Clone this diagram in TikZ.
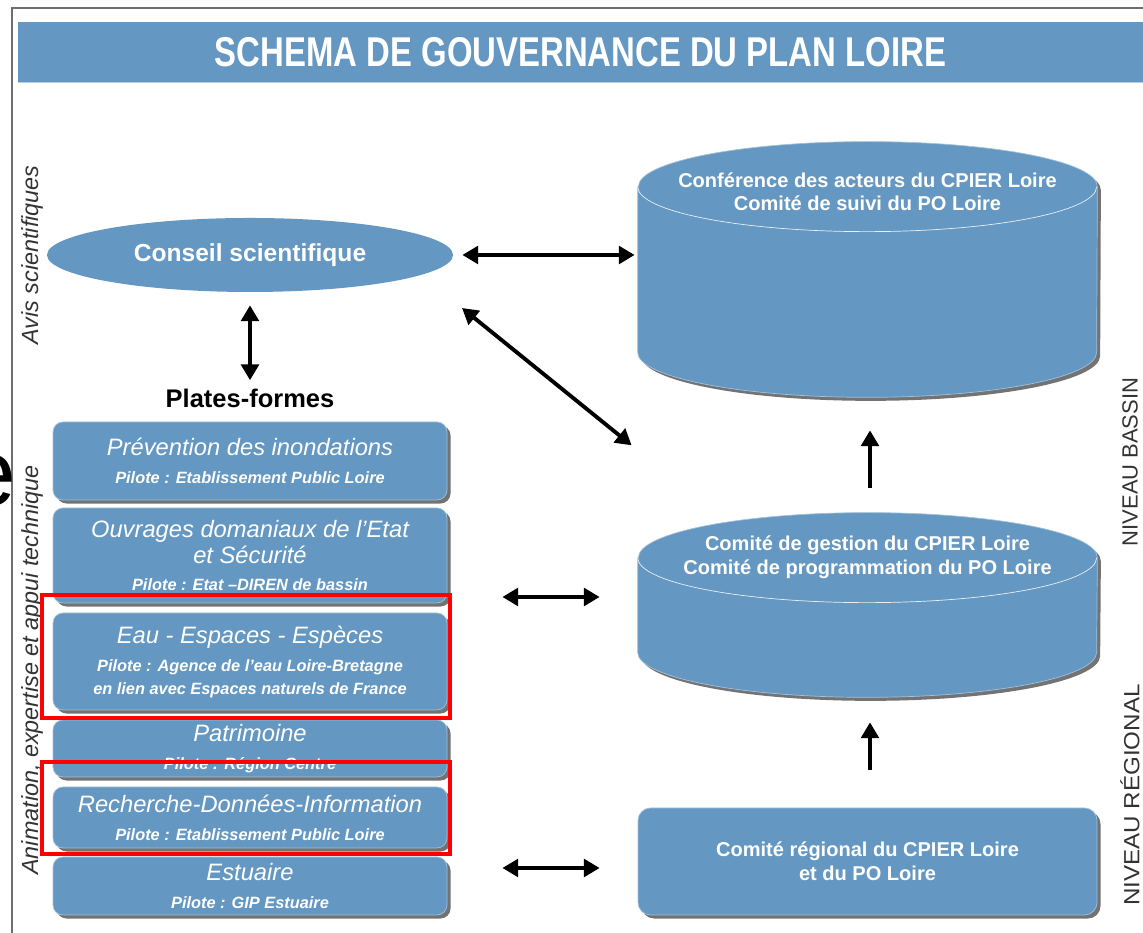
\documentclass[tikz,border=0pt]{standalone}
\usepackage{fontspec}
\setmainfont{Liberation Sans}
\usepackage{graphicx}
\usetikzlibrary{shapes.geometric,shadows,arrows.meta}
\definecolor{loireblue}{HTML}{6497C1}
\definecolor{framegray}{HTML}{6E6E6E}
\definecolor{sidegray}{HTML}{333333}
\newcommand{\platetitle}[1]{{\fontsize{13.5}{16}\selectfont\mdseries\itshape #1}}
\newcommand{\platepilote}[1]{{\fontsize{9.3}{12}\selectfont\bfseries\itshape #1}}

\begin{document}
\begin{tikzpicture}[
	boxshadow/.style={drop shadow={shadow xshift=2pt,shadow yshift=-2pt,fill=black!55,opacity=1}},
	plate/.style={rectangle,rounded corners=2mm,fill=loireblue,draw=loireblue!60!white,thin,
		minimum width=7.88cm,inner sep=0pt,align=center,text=white,
		font=\fontsize{9.3}{16}\selectfont,boxshadow},
	cylfill/.style={fill=loireblue,draw=loireblue!60!white,thin,boxshadow},
	capline/.style={draw=white!85!loireblue,thin},
	bluetext/.style={text=white,font=\fontsize{11.4}{13.5}\selectfont\bfseries,align=center,inner sep=0pt},
	sidetext/.style={text=sidegray,font=\fontsize{13.3}{15}\selectfont\itshape,rotate=90,inner sep=0pt},
	leveltext/.style={text=sidegray,font=\fontsize{12.5}{15}\selectfont,rotate=90,inner sep=0pt},
	biarrow/.style={line width=2.2pt,{Triangle[length=9pt,width=10pt]}-{Triangle[length=9pt,width=10pt]}},
	uparrow/.style={line width=2.2pt,-{Triangle[length=9pt,width=10pt]}},
	redbox/.style={draw=red,line width=2pt}
	]
	
	\useasboundingbox (0,0) rectangle (22.86,18.66);
	
	% frame and title
	\draw[framegray,line width=1.6pt] (0.24,0) -- (0.24,18.5) -- (22.86,18.5);
	\node[fill=loireblue,minimum width=22.5cm,minimum height=1.2cm,inner sep=0pt,text=white] (title) at (11.61,17.62)
		{\fontsize{23.7}{26}\selectfont\bfseries\scalebox{0.79}[1]{SCHEMA DE GOUVERNANCE DU PLAN LOIRE}};
	\draw[loireblue!45!white,thin] (title.south west) -- (title.south east);
	
	\node[font=\fontsize{54}{54}\selectfont,inner sep=0pt] (stray) at (-0.2,9.06) {e};
	
	% side labels
	\node[sidetext] (avis) at (0.64,13.56) {Avis scientifiques};
	\node[sidetext] (animation) at (0.64,5.26) {Animation, expertise et appui technique};
	\node[leveltext] (bassin) at (22.6,9.42) {NIVEAU BASSIN};
	\node[leveltext] (regionlabel) at (22.6,2.76) {\scalebox{1.1}[1]{NIVEAU RÉGIONAL}};
	
	% conseil scientifique
	\node[ellipse,fill=loireblue,minimum width=8.12cm,minimum height=1.48cm,inner sep=0pt,text=white,
		font=\fontsize{14}{16}\selectfont\bfseries] (conseil) at (5.0,13.56) {Conseil scientifique};
	\node[font=\fontsize{14.5}{16}\selectfont\bfseries,inner sep=0pt] (plates) at (5.0,10.7) {Plates-formes};
	
	% plates-formes
	\node[plate,minimum height=1.56cm] (prevention) at (5.0,9.44)
		{\platetitle{Prévention des inondations}\\\platepilote{Pilote : Etablissement Public Loire}};
	\node[plate,minimum height=1.9cm] (ouvrages) at (5.0,7.55)
		{\platetitle{Ouvrages domaniaux de l'Etat}\\[-1pt]\platetitle{et Sécurité}\\[-1pt]\platepilote{Pilote : Etat --DIREN de bassin}};
	\node[plate,minimum height=1.94cm] (eau) at (5.0,5.43)
		{\platetitle{Eau - Espaces - Espèces}\\\platepilote{Pilote : Agence de l'eau Loire-Bretagne}\\[-3pt]\platepilote{en lien avec Espaces naturels de France}};
	\node[plate,minimum height=1.14cm] (patrimoine) at (5.0,3.69)
		{\platetitle{Patrimoine}\\\platepilote{Pilote : Région Centre}};
	\node[plate,minimum height=1.22cm] (recherche) at (5.0,2.31)
		{\platetitle{Recherche-Données-Information}\\\platepilote{Pilote : Etablissement Public Loire}};
	\node[plate,minimum height=1.16cm] (estuaire) at (5.0,0.94)
		{\platetitle{Estuaire}\\\platepilote{Pilote : GIP Estuaire}};
	
	\draw[redbox] (0.84,4.3) rectangle (9.0,6.76);
	\draw[redbox] (0.84,1.58) rectangle (9.0,3.42);
	
	% cylinders
	\node[minimum width=9.18cm,minimum height=5.1cm,inner sep=0pt] (cyla) at (17.35,13.27) {};
	\draw[cylfill] ([yshift=-9mm]cyla.north west) -- ([yshift=9mm]cyla.south west)
		arc[start angle=180,end angle=360,x radius=4.59,y radius=0.9] -- ([yshift=-9mm]cyla.north east)
		arc[start angle=0,end angle=180,x radius=4.59,y radius=0.9] -- cycle;
	\draw[capline] ([yshift=-9mm]cyla.north west) arc[start angle=180,end angle=360,x radius=4.59,y radius=0.9];
	\node[bluetext] (cylatext) at ([yshift=-10mm]cyla.north) {Conférence des acteurs du CPIER Loire\\Comité de suivi du PO Loire};
	
	\node[minimum width=9.18cm,minimum height=3.68cm,inner sep=0pt] (cylb) at (17.35,6.56) {};
	\draw[cylfill] ([yshift=-9mm]cylb.north west) -- ([yshift=9mm]cylb.south west)
		arc[start angle=180,end angle=360,x radius=4.59,y radius=0.9] -- ([yshift=-9mm]cylb.north east)
		arc[start angle=0,end angle=180,x radius=4.59,y radius=0.9] -- cycle;
	\draw[capline] ([yshift=-9mm]cylb.north west) arc[start angle=180,end angle=360,x radius=4.59,y radius=0.9];
	\node[bluetext] (cylbtext) at ([yshift=-9mm]cylb.north) {Comité de gestion du CPIER Loire\\Comité de programmation du PO Loire};
	
	\node[rectangle,rounded corners=2.5mm,fill=loireblue,draw=loireblue!60!white,thin,boxshadow,
		minimum width=9.18cm,minimum height=2.14cm,bluetext] (regional) at (17.35,1.43)
		{Comité régional du CPIER Loire\\et du PO Loire};
	
	% arrows
	\draw[biarrow,shorten <=1.8mm,shorten >=0.6mm] (conseil.east) -- (conseil.east -| cyla.west);
	\draw[biarrow] ([shift={(4.24,-1.06)}]conseil.center) -- ([shift={(-0.12,-0.96)}]cyla.south west);
	\draw[biarrow,shorten <=2.6mm,shorten >=1.6mm] (conseil.south) -- (plates.north);
	\draw[uparrow] ([xshift=0.5mm,yshift=5mm]cylb.north) -- ([xshift=0.5mm,yshift=-6.6mm]cyla.south);
	\draw[uparrow] ([xshift=0.5mm,yshift=7.6mm]regional.north) -- ([xshift=0.5mm,yshift=-5mm]cylb.south);
	\draw[biarrow,shorten <=11mm,shorten >=7.6mm] ([yshift=1.6mm]cylb.west -| ouvrages.east) -- ([yshift=1.6mm]cylb.west);
	\draw[biarrow,shorten <=11mm,shorten >=7.6mm] ([yshift=-1.3mm]regional.west -| estuaire.east) -- ([yshift=-1.3mm]regional.west);
	
\end{tikzpicture}
\end{document}
